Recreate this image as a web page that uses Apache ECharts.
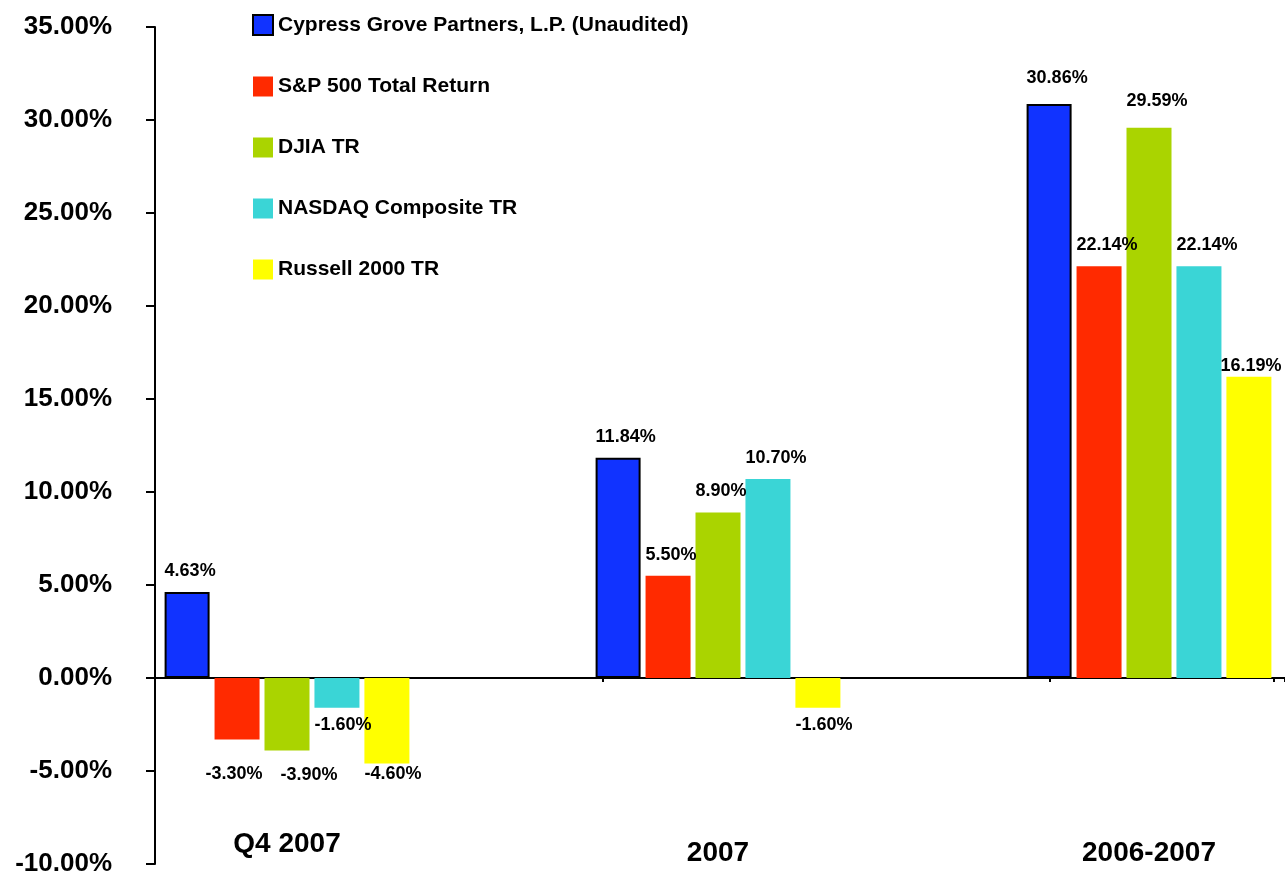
<!DOCTYPE html>
<html>
<head>
<meta charset="utf-8">
<script src="https://cdn.jsdelivr.net/npm/echarts@6/dist/echarts.min.js"></script>
<style>
html, body { margin: 0; padding: 0; background: #fff; }
#chart { width: 1285px; height: 876px; }
</style>
</head>
<body>
<div id="chart"></div>
<script>
// data (percent)
const categories = ['Q4 2007', '2007', '2006-2007'];
const seriesNames = [
    'Cypress Grove Partners, L.P. (Unaudited)',
    'S&P 500 Total Return',
    'DJIA TR',
    'NASDAQ Composite TR',
    'Russell 2000 TR'
];
const cypressValues = [4.63, 11.84, 30.86];
const sp500Values = [-3.30, 5.50, 22.14];
const djiaValues = [-3.90, 8.90, 29.59];
const nasdaqValues = [-1.60, 10.70, 22.14];
const russellValues = [-4.60, -1.60, 16.19];
const yMin = -10;
const yMax = 35;
const yStep = 5;

const colors = ['#1133ff', '#ff2a00', '#aad400', '#3ad5d6', '#ffff00'];
const font = '"Liberation Sans", Arial, sans-serif';
const barWidth = 45;

// small nudges so the value labels sit where the original put them
const labelNudge = {
    '1|0': [-9, 18],
    '2|0': [16, 7],
    '4|0': [0, -7],
    '0|2': [0, -5],
    '2|2': [0, -6],
    '4|2': [-6, 10]
};

const allValues = [cypressValues, sp500Values, djiaValues, nasdaqValues, russellValues];

const chart = echarts.init(document.getElementById('chart'));

const series = allValues.map((vals, s) => ({
    name: seriesNames[s],
    type: 'bar',
    xAxisIndex: 1,
    yAxisIndex: 1,
    barWidth: barWidth,
    barGap: '11%',
    itemStyle: s === 0
        ? { color: colors[s], borderColor: '#000', borderWidth: 2 }
        : { color: colors[s] },
    label: {
        show: true,
        color: '#000',
        fontFamily: font,
        fontWeight: 'bold',
        fontSize: 18,
        align: 'left',
        formatter: p => p.value.toFixed(2) + '%'
    },
    data: vals.map((v, c) => {
        const n = labelNudge[s + '|' + c] || [0, 0];
        return {
            value: v,
            label: {
                position: v < 0 ? 'bottom' : 'top',
                distance: v < 0 ? 8 : 12,
                offset: [-barWidth / 2 + n[0], n[1]]
            }
        };
    })
}));

const option = {
    animation: false,
    backgroundColor: '#fff',
    legend: {
        orient: 'vertical',
        left: 247,
        top: 9,
        itemWidth: 20,
        itemHeight: 20,
        itemGap: 40,
        icon: 'rect',
        data: seriesNames,
        textStyle: {
            color: '#000',
            fontFamily: font,
            fontWeight: 'bold',
            fontSize: 21
        }
    },
    grid: [
        { left: 155, right: 0, top: 27, bottom: 12, outerBoundsMode: 'none' },
        { left: 71.5, right: -79.5, top: 27, bottom: 12, outerBoundsMode: 'none' }
    ],
    xAxis: [
        {
            // draws the zero line with its little ticks
            gridIndex: 0,
            type: 'value',
            min: 0,
            max: 5.05,
            interval: 1,
            axisLine: { onZero: true, lineStyle: { color: '#000', width: 2 } },
            axisTick: { show: true, length: 4, lineStyle: { color: '#000', width: 2 } },
            axisLabel: { show: false },
            splitLine: { show: false }
        },
        {
            gridIndex: 1,
            type: 'category',
            data: categories,
            axisLine: { show: false, onZero: false },
            axisTick: { show: false },
            splitLine: { show: false },
            axisLabel: {
                margin: 3,
                verticalAlign: 'bottom',
                color: '#000',
                fontFamily: font,
                fontWeight: 'bold',
                fontSize: 28,
                formatter: (v, i) => i === 0 ? '{q|' + v + '}' : '{c|' + v + '}',
                rich: {
                    q: { fontFamily: font, fontWeight: 'bold', fontSize: 28, color: '#000', padding: [0, 0, 9, 0] },
                    c: { fontFamily: font, fontWeight: 'bold', fontSize: 28, color: '#000' }
                }
            }
        }
    ],
    yAxis: [
        {
            gridIndex: 0,
            type: 'value',
            min: yMin,
            max: yMax,
            interval: yStep,
            axisLine: { show: true, lineStyle: { color: '#000', width: 2 } },
            axisTick: { show: true, length: 9, lineStyle: { color: '#000', width: 2 } },
            splitLine: { show: false },
            axisLabel: {
                margin: 43,
                color: '#000',
                fontFamily: font,
                fontWeight: 'bold',
                fontSize: 26,
                formatter: v => v.toFixed(2) + '%'
            }
        },
        {
            gridIndex: 1,
            type: 'value',
            min: yMin,
            max: yMax,
            interval: yStep,
            show: false
        }
    ],
    series: series
};

chart.setOption(option);
</script>
</body>
</html>
